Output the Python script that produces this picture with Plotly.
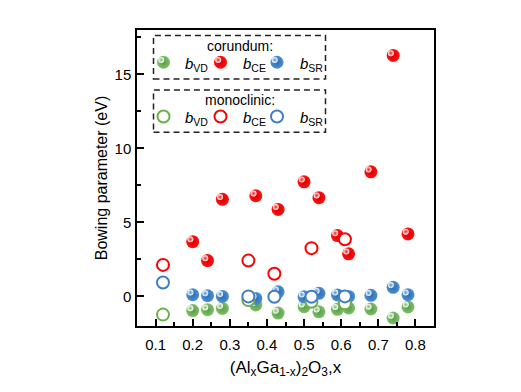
import plotly.graph_objects as go

# ---------------- data ----------------
x_cor = [0.20, 0.24, 0.28, 0.37, 0.43, 0.50, 0.54, 0.59, 0.62, 0.68, 0.74, 0.78]
b_vd_cor = [-0.96, -0.90, -0.81, -0.58, -1.13, -0.70, -1.04, -0.87, -0.78, -0.85, -1.46, -0.71]
b_ce_cor = [3.70, 2.42, 6.56, 6.80, 5.88, 7.74, 6.67, 4.11, 2.88, 8.42, 16.28, 4.22]
b_sr_cor = [0.11, 0.05, 0.00, -0.14, 0.31, -0.03, 0.21, 0.10, 0.00, 0.07, 0.61, 0.11]

x_mono = [0.12, 0.35, 0.52, 0.61]
b_vd_mono = [-1.23, -0.25, -0.36, -0.47]
x_mono_ce = [0.12, 0.35, 0.42, 0.52, 0.61]
b_ce_mono = [2.13, 2.42, 1.53, 3.26, 3.86]
x_mono_sr = [0.12, 0.35, 0.42, 0.52, 0.61]
b_sr_mono = [0.94, 0.00, -0.02, -0.02, 0.00]

x_ticks = [0.1, 0.2, 0.3, 0.4, 0.5, 0.6, 0.7, 0.8]
y_ticks = [0, 5, 10, 15]

# ---------------- style ----------------
GREEN, GREEN_D = "#7dbf69", "#5a9a48"
RED, RED_D = "#ff1010", "#d80000"
BLUE, BLUE_D = "#4a8fd2", "#2f6bb0"
GREEN_O, RED_O, BLUE_O = "#6cb04e", "#ff0000", "#3f7fc6"
MS = 13

# plot area in screenshot pixels (page body adds an 8px offset)
OFF = 8
L, R, T, B = 137, 434, 30, 326.5
W, H = 521 - OFF, 392 - OFF
XR = [0.05, 0.85]
YR = [-2.0, 18.0]
DX = -2.3 * (XR[1] - XR[0]) / (R - L)
DY = 2.3 * (YR[1] - YR[0]) / (B - T)


def px(xp):
    return (xp - L) / (R - L)


def py(yp):
    return (B - yp) / (B - T)


fig = go.Figure()


def sphere(xs, ys, c, cd, name, xa="x", ya="y"):
    fig.add_trace(go.Scatter(
        x=xs, y=ys, mode="markers", name=name, showlegend=False, xaxis=xa, yaxis=ya,
        marker=dict(size=MS, color=c, gradient=dict(type="radial", color=cd),
                    line=dict(width=0)),
        hoverinfo="skip"))


def highlight(xs, ys, c, xa="x", ya="y", dx=DX, dy=DY):
    fig.add_trace(go.Scatter(
        x=[v + dx for v in xs], y=[v + dy for v in ys], mode="markers",
        showlegend=False, xaxis=xa, yaxis=ya,
        marker=dict(size=6, color="white", gradient=dict(type="radial", color=c),
                    line=dict(width=0)),
        hoverinfo="skip"))


def ring(xs, ys, c, name, xa="x", ya="y"):
    fig.add_trace(go.Scatter(
        x=xs, y=ys, mode="markers", name=name, showlegend=False, xaxis=xa, yaxis=ya,
        marker=dict(size=MS - 1, color="white", line=dict(width=2, color=c)),
        hoverinfo="skip"))


sphere(x_cor, b_vd_cor, GREEN, GREEN_D, "bVD corundum")
highlight(x_cor, b_vd_cor, GREEN)
sphere(x_cor, b_ce_cor, RED, RED_D, "bCE corundum")
highlight(x_cor, b_ce_cor, RED)
sphere(x_cor, b_sr_cor, BLUE, BLUE_D, "bSR corundum")
highlight(x_cor, b_sr_cor, BLUE)
ring(x_mono, b_vd_mono, GREEN_O, "bVD monoclinic")
ring(x_mono_ce, b_ce_mono, RED_O, "bCE monoclinic")
ring(x_mono_sr, b_sr_mono, BLUE_O, "bSR monoclinic")

# ---------------- legend (pixel-coordinate overlay axes) ----------------
leg_x = [163.5, 220.5, 277]
leg_y1, leg_y2 = 62.3, 116.7
sphere([leg_x[0]], [leg_y1], GREEN, GREEN_D, "lg", "x2", "y2")
highlight([leg_x[0]], [leg_y1], GREEN, "x2", "y2", -2.3, -2.3)
sphere([leg_x[1]], [leg_y1], RED, RED_D, "lr", "x2", "y2")
highlight([leg_x[1]], [leg_y1], RED, "x2", "y2", -2.3, -2.3)
sphere([leg_x[2]], [leg_y1], BLUE, BLUE_D, "lb", "x2", "y2")
highlight([leg_x[2]], [leg_y1], BLUE, "x2", "y2", -2.3, -2.3)
ring([leg_x[0]], [leg_y2], GREEN_O, "lg2", "x2", "y2")
ring([leg_x[1]], [leg_y2], RED_O, "lr2", "x2", "y2")
ring([leg_x[2]], [leg_y2], BLUE_O, "lb2", "x2", "y2")

FONT = "Liberation Sans, Arial, sans-serif"
shapes = []
for (y0, y1) in [(35.5, 79), (90, 132.5)]:
    shapes.append(dict(type="rect", xref="paper", yref="paper",
                       x0=px(153.5), x1=px(325.5), y0=py(y1), y1=py(y0),
                       line=dict(color="#222222", width=1.5, dash="6px,4px"),
                       fillcolor="rgba(0,0,0,0)"))

annotations = []
annotations.append(dict(text="corundum:", x=px(240), y=py(46), xref="paper", yref="paper",
                        xanchor="center", yanchor="middle",
                        showarrow=False, font=dict(size=14, color="black", family=FONT)))
annotations.append(dict(text="monoclinic:", x=px(240), y=py(100), xref="paper", yref="paper",
                        xanchor="center", yanchor="middle",
                        showarrow=False, font=dict(size=14, color="black", family=FONT)))
labels = ["<i>b</i><sub>VD</sub>", "<i>b</i><sub>CE</sub>", "<i>b</i><sub>SR</sub>"]
lab_x = [182.5, 240.5, 298]
for yy in [leg_y1, leg_y2]:
    for lx, lt in zip(lab_x, labels):
        annotations.append(dict(text=lt, x=px(lx), y=py(yy + 2), xref="paper", yref="paper",
                                xanchor="left", yanchor="middle", showarrow=False,
                                font=dict(size=15, color="black", family=FONT)))

fig.update_layout(
    width=W, height=H,
    margin=dict(l=L - OFF, r=W - (R - OFF), t=T - OFF, b=H - (B - OFF), pad=0,
                autoexpand=False),
    paper_bgcolor="white", plot_bgcolor="white",
    showlegend=False,
    font=dict(family=FONT, color="black"),
    shapes=shapes, annotations=annotations,
    xaxis=dict(range=XR, tickvals=x_ticks, ticktext=[f"{v:.1f}" for v in x_ticks],
               ticks="inside", ticklen=7, tickwidth=1.5, tickcolor="black",
               minor=dict(ticks="inside", ticklen=4, tickwidth=1.5, tickcolor="black", dtick=0.05),
               showline=True, linecolor="black", linewidth=1.5, mirror=True,
               showgrid=False, zeroline=False, tickfont=dict(size=15),
               ticklabelstandoff=4, automargin=False,
               title=dict(text="(Al<sub>x</sub>Ga<sub>1-x</sub>)<sub>2</sub>O<sub>3</sub>,x",
                          font=dict(size=17), standoff=9)),
    yaxis=dict(range=YR, tickvals=y_ticks, ticks="inside", ticklen=7, tickwidth=1.5,
               tickcolor="black",
               minor=dict(ticks="inside", ticklen=4, tickwidth=1.5, tickcolor="black", dtick=2.5),
               showline=True, linecolor="black", linewidth=1.5, mirror=True,
               showgrid=False, zeroline=False, tickfont=dict(size=15),
               ticklabelstandoff=1, automargin=False,
               title=dict(text="Bowing parameter (eV)", font=dict(size=16), standoff=3)),
    xaxis2=dict(range=[L, R], overlaying="x", visible=False, fixedrange=True),
    yaxis2=dict(range=[B, T], overlaying="y", visible=False, fixedrange=True),
)

fig.write_html("out.html")
